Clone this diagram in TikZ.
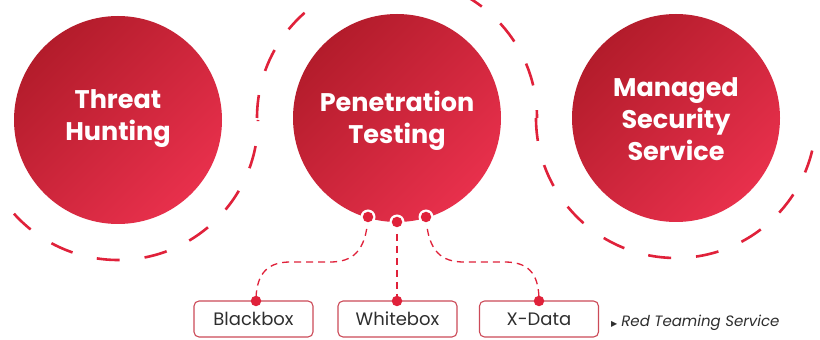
\documentclass[tikz,border=0pt]{standalone}
\usepackage{fontspec}
\setmainfont{Poppins}
\newfontfamily\symfont{DejaVu Sans}
\definecolor{cdark}{HTML}{B31C2B}
\definecolor{clight}{HTML}{E8304C}
\definecolor{redring}{HTML}{E0213A}
\definecolor{boxline}{HTML}{CC4A58}
\definecolor{labeltext}{HTML}{2E2E2E}
\tikzset{
  bigcircle/.style={circle, minimum size=208pt, inner sep=0pt, top color=cdark, bottom color=clight, shading angle=45},
  title/.style={text=white, font=\bfseries\fontsize{25.5}{32}\selectfont, align=center},
  ringline/.style={draw=redring, line width=2.6pt, dash pattern=on 23pt off 25pt},
  linkline/.style={draw=redring, line width=1.3pt, dash pattern=on 7pt off 5pt},
  labelbox/.style={draw=boxline, line width=1.1pt, rounded corners=5pt, minimum width=119pt, minimum height=36pt, inner sep=0pt, text=labeltext, font=\fontsize{18}{22}\selectfont},
  boxdot/.style={circle, fill=redring, minimum size=10.5pt, inner sep=0pt},
  halo/.style={circle, fill=white, minimum size=15pt, inner sep=0pt},
}
\begin{document}
\begin{tikzpicture}[x=1pt,y=1pt]
\useasboundingbox (0,0) rectangle (820,340);
\fill[white] (0,0) rectangle (820,340);
% dashed rings
\draw[ringline] (118,220) ++(222:140) arc[start angle=222, end angle=360, radius=140];
\draw[ringline] (397,222) ++(180:140) arc[start angle=180, end angle=0, radius=140];
\draw[ringline] (676,222) ++(180:140) arc[start angle=180, end angle=356, radius=140];
% circles
\node[bigcircle] (th) at (118,220) {};
\node[bigcircle] (pt) at (397,222) {};
\node[bigcircle] (ms) at (676,222) {};
\node[title] (tht) at (118,221) {Threat\\Hunting};
\node[title] (ptt) at (397,219) {Penetration\\Testing};
\node[title] (mst) at (676,221) {Managed\\Security\\Service};
% boxes
\node[labelbox] (bb) at (253.5,21) {Blackbox};
\node[labelbox] (wb) at (397.5,21) {Whitebox};
\node[labelbox] (xd) at (539,21) {X-Data};
% connectors
\coordinate (p1) at (368,123);
\coordinate (p2) at (397,118);
\coordinate (p3) at (426,123);
\coordinate (q1) at (256,39);
\coordinate (q2) at (397,39);
\coordinate (q3) at (539,39);
\draw[linkline] (p1) .. controls (366,88) and (352,78) .. (330,78) -- (290,78) .. controls (264,78) and (256,62) .. (q1);
\draw[linkline] (p2) -- (q2);
\draw[linkline] (p3) .. controls (428,88) and (442,78) .. (464,78) -- (505,78) .. controls (532,78) and (539,62) .. (q3);
\node[halo] (h1) at (p1) {};
\node[halo] (h2) at (p2) {};
\node[halo] (h3) at (p3) {};
\node[boxdot] (d1) at (p1) {};
\node[boxdot] (d2) at (p2) {};
\node[boxdot] (d3) at (p3) {};
\node[boxdot] (e1) at (q1) {};
\node[boxdot] (e2) at (q2) {};
\node[boxdot] (e3) at (q3) {};
% note
\node[anchor=base west, inner sep=0pt, text=labeltext, font=\fontsize{15}{18}\selectfont] (rt) at (611,13) {{\symfont\fontsize{8}{10}\selectfont ▶}\hspace{4pt}\itshape Red Teaming Service};
\end{tikzpicture}
\end{document}
